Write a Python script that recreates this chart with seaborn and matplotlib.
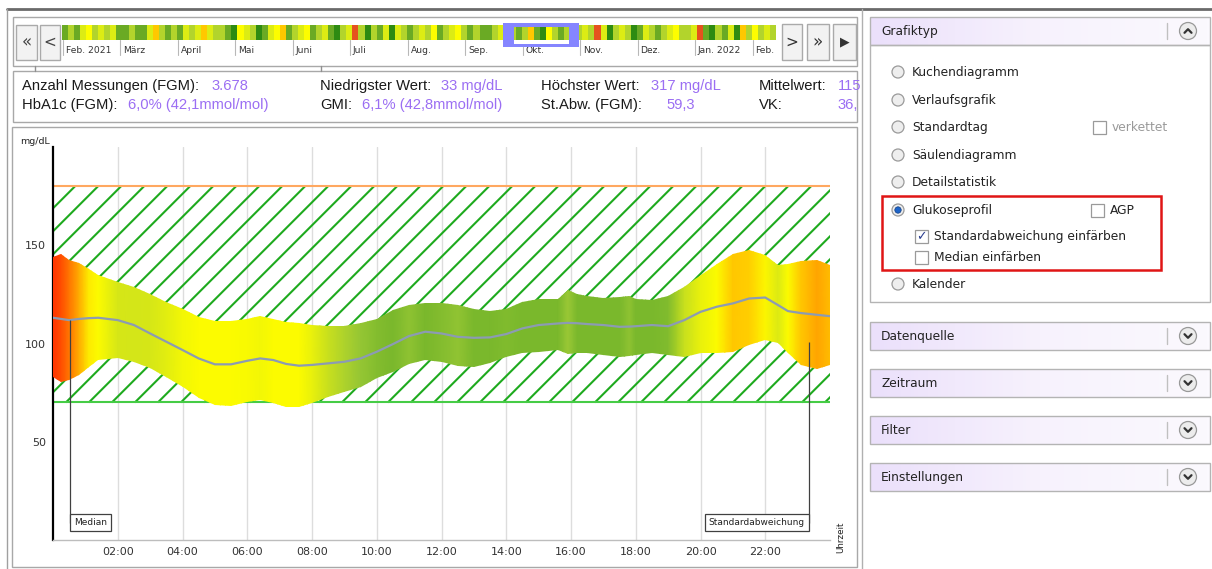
import numpy as np
import pandas as pd
import matplotlib
matplotlib.use("Agg")
import matplotlib.pyplot as plt
import seaborn as sns
from matplotlib.colors import LinearSegmentedColormap, ListedColormap
from matplotlib.collections import LineCollection
from matplotlib.patches import Rectangle, Circle

# ============================================
# Data
# ============================================

# glucose profile (mg/dL) over the standard day
hours = [0, 0.25, 0.5, 0.8, 1.1, 1.4, 2.0, 2.5, 3.0, 3.5, 4.0, 4.5, 5.0, 5.5,
         6.0, 6.4, 6.8, 7.2, 7.6, 8.0, 8.5, 9.0, 9.5, 10.0, 10.5, 11.0, 11.5,
         12.0, 12.5, 13.0, 13.5, 14.0, 14.5, 15.0, 15.6, 15.9, 16.2, 16.5,
         17.0, 17.5, 17.8, 18.0, 18.5, 19.0, 19.5, 20.0, 20.5, 21.0, 21.5,
         22.0, 22.4, 22.7, 23.1, 23.6, 24.0]
sd_upper = [144.0, 145.4, 142.3, 141.0, 138.1, 134.7, 131.4, 128.8, 125.4, 121.2,
            117.8, 113.6, 111.4, 111.6, 112.7, 113.9, 112.7, 111.0, 110.2, 109.4,
            108.8, 108.8, 110.2, 112.7, 117.0, 119.5, 120.7, 120.4, 119.5, 117.8,
            116.6, 117.8, 121.2, 122.4, 122.9, 127.1, 125.0, 124.1, 123.4, 123.7,
            124.1, 122.9, 122.0, 124.1, 128.8, 134.7, 140.7, 145.7, 147.8, 144.9,
            139.8, 140.3, 142.0, 142.7, 140.0]
median_line = [113.1, 112.5, 111.9, 112.5, 112.9, 113.1, 111.9, 109.4, 105.1, 100.9,
               96.7, 92.4, 89.4, 89.4, 91.2, 92.4, 91.6, 89.6, 88.7, 89.1,
               89.9, 90.7, 92.4, 95.8, 99.7, 103.8, 106.0, 105.1, 103.4, 102.9,
               103.1, 104.8, 107.7, 109.4, 110.2, 110.5, 110.3, 109.9, 109.4, 108.5,
               108.6, 108.8, 109.4, 108.8, 111.9, 116.1, 118.7, 120.4, 122.9, 123.4,
               119.5, 116.5, 115.5, 114.6, 113.9]
sd_lower = [83.1, 80.6, 81.4, 84.0, 88.2, 91.6, 92.4, 90.7, 87.4, 83.1,
            78.1, 72.1, 68.7, 68.2, 70.4, 71.0, 69.6, 67.9, 67.9, 69.6,
            73.0, 75.5, 78.1, 82.3, 85.7, 89.6, 91.6, 90.7, 88.5, 88.2,
            90.2, 93.3, 95.0, 95.8, 96.7, 94.5, 95.0, 95.0, 94.1, 93.3,
            93.6, 94.1, 95.0, 94.1, 92.9, 95.0, 95.3, 95.8, 99.2, 101.7,
            100.4, 95.0, 89.1, 86.9, 89.0]
# colour level of the SD band (0 = green ... 1 = red)
sd_colour_level = [1.0, 0.95, 0.88, 0.78, 0.56, 0.5, 0.37, 0.36, 0.37, 0.42,
                   0.47, 0.5, 0.5, 0.5, 0.49, 0.47, 0.5, 0.5, 0.5, 0.44,
                   0.3, 0.18, 0.08, 0.03, 0.0, 0.06, 0.0, 0.03, 0.07, 0.0,
                   0.0, 0.02, 0.0, 0.0, 0.0, 0.09, 0.0, 0.0, 0.0, 0.0,
                   0.06, 0.0, 0.0, 0.02, 0.3, 0.44, 0.5, 0.68, 0.66, 0.52,
                   0.4, 0.5, 0.68, 0.8, 0.72]
target_low, target_high = 70, 180
y_ticks = [50, 100, 150]
x_ticks = list(range(2, 24, 2))
x_tick_labels = [f"{h:02d}:00" for h in x_ticks]
median_pointer = (0.525, 112.0)
sd_pointer = (23.35, 101.0)

# timeline strip: one colour class per block
day_classes = ("GgGyYgygyGGgGGyogGgGygyoyggGDYygDGyYoGgyYGgyGDgyrgDgGyDygGgy"
               "gYGgyYgGgGGgyggGgoGDYgGgggygryDgygDGygGgyYggyrGDgGyDogYgyg")
class_colours = {"g": "#b2d42c", "G": "#6aaa24", "D": "#2e8b12", "y": "#dcec14",
                 "Y": "#fdfd00", "o": "#ffc800", "r": "#e5521e"}
months = ["Feb. 2021", "März", "April", "Mai", "Juni", "Juli", "Aug.", "Sep.",
          "Okt.", "Nov.", "Dez.", "Jan. 2022", "Feb."]

# statistics panel
stat_labels_1 = ["Anzahl Messungen (FGM):", "Niedrigster Wert:", "Höchster Wert:", "Mittelwert:"]
stat_values_1 = ["3.678", "33 mg/dL", "317 mg/dL", "115"]
stat_labels_2 = ["HbA1c (FGM):", "GMI:", "St.Abw. (FGM):", "VK:"]
stat_values_2 = ["6,0% (42,1mmol/mol)", "6,1% (42,8mmol/mol)", "59,3", "36,"]

# side panel
chart_types = ["Kuchendiagramm", "Verlaufsgrafik", "Standardtag", "Säulendiagramm",
               "Detailstatistik", "Glukoseprofil", "Kalender"]
selected_type = "Glukoseprofil"
collapsed_sections = ["Datenquelle", "Zeitraum", "Filter", "Einstellungen"]

df = pd.DataFrame({"hour": hours, "upper": sd_upper, "median": median_line,
                   "lower": sd_lower, "level": sd_colour_level})

# ============================================
# Figure setup
# ============================================
sns.set_theme(style="white")
plt.rcParams["font.family"] = ["DejaVu Sans"]

W, H = 1212, 569
fig = plt.figure(figsize=(W / 100, H / 100), dpi=100)
fig.patch.set_facecolor("white")

# full-figure pixel canvas for the surrounding UI
ui = fig.add_axes([0, 0, 1, 1], zorder=0)
ui.axis("off")

BORDER = "#a8a8a8"
STAT_FONT = ["Liberation Sans", "DejaVu Sans"]
PURPLE = "#9b6ef3"


def box(x, y, w, h, fc="none", ec=BORDER, lw=1.0, z=1):
    ui.add_patch(Rectangle((x, y), w, h, facecolor=fc, edgecolor=ec, lw=lw, zorder=z))


def chevron(xc, yc, up):
    d = -1 if up else 1
    ui.plot([xc - 3.5, xc, xc + 3.5], [yc - 1.8 * d, yc + 1.8 * d, yc - 1.8 * d],
            color="#333333", lw=1.6, solid_capstyle="round", zorder=5)


def section_header(y0, label, expanded):
    grad = np.linspace(0, 1, 100)[None, :]
    cm = LinearSegmentedColormap.from_list("hdr", ["#ebe0fb", "#f7f2fd", "#fbf9fe"])
    ui.imshow(grad, extent=(870, 1210, y0 + 28, y0), cmap=cm, aspect="auto", zorder=1)
    box(870, y0, 340, 28, ec="#b4b4b4", z=2)
    yc = y0 + 14
    ui.text(881, yc, label, va="center", ha="left", fontsize=8.8, color="#222222", zorder=3)
    ui.plot([1167, 1167], [yc - 8, yc + 8], color="#c0c0c0", lw=1, zorder=3)
    ui.add_patch(Circle((1188, yc), 8.5, facecolor="#ececec", edgecolor="#999999", lw=0.9, zorder=4))
    chevron(1188, yc, expanded)


def checkbox(x, y, label, checked=False, colour="#222222"):
    box(x, y - 6.5, 13, 13, fc="white", ec="#9a9a9a", lw=0.9, z=3)
    if checked:
        ui.text(x + 6.5, y + 0.5, "\u2713", ha="center", va="center", fontsize=9,
                color="#2a3d8f", zorder=4)
    ui.text(x + 19, y, label, va="center", ha="left", fontsize=8.8, color=colour, zorder=3)


# window frame
ui.plot([7, W], [9, 9], color="#6a6a6a", lw=2, zorder=3)
ui.plot([7, 7], [9, H], color="#a0a0a0", lw=1, zorder=3)
ui.plot([862, 862], [9, H], color="#b0b0b0", lw=1, zorder=3)

# ---- timeline navigator ----
box(13, 17, 844, 49)
for bx, bw, sym, fs in [(16, 21, "\u00ab", 12), (40, 20, "<", 11)]:
    box(bx, 25, bw, 35, fc="#f2f2f2", ec="#aaaaaa", z=2)
    ui.text(bx + bw / 2, 42, sym, ha="center", va="center", fontsize=fs, color="#444444", zorder=3)
for bx, bw, sym, fs in [(782, 20, ">", 11), (807, 22, "\u00bb", 12), (833, 23, "\u25b6", 9)]:
    box(bx, 24, bw, 36, fc="#f2f2f2", ec="#aaaaaa", z=2)
    ui.text(bx + bw / 2, 42, sym, ha="center", va="center", fontsize=fs, color="#333333", zorder=3)

keys = list(class_colours)
strip_cmap = ListedColormap([class_colours[k] for k in keys])
strip_idx = np.array([keys.index(c) for c in day_classes])[None, :]
strip_kw = dict(cmap=strip_cmap, vmin=-0.5, vmax=len(keys) - 0.5, aspect="auto",
                interpolation="nearest")
ui.imshow(strip_idx, extent=(62, 776, 40, 25), zorder=2, **strip_kw)

month_step = (776 - 62) / 12.42
for i, m in enumerate(months):
    mx = 63 + i * month_step
    ui.plot([mx, mx], [40, 55], color="#b8b8b8", lw=0.8, zorder=2)
    ui.text(mx + 2.5, 50, m, ha="left", va="center", fontsize=6.6, color="#333333", zorder=3)

# selected month window
box(503, 23, 76, 24, fc="#8585ff", ec="none", z=4)
box(514, 27, 55, 17, fc="white", ec="none", z=5)
inner = ui.imshow(strip_idx, extent=(62, 776, 40, 25), zorder=6, **strip_kw)
inner.set_clip_path(Rectangle((514, 27), 55, 13, transform=ui.transData))

# ---- statistics panel ----
box(13, 71, 844, 51)
for cx in (35, 321):
    ui.plot([cx, cx], [66, 71], color="#909090", lw=1, zorder=2)
label_x = [22, 320, 541, 759]
value_x_1 = [211, 441, 651, 838]
value_x_2 = [128, 362, 666, 838]
for lab, val, lx, vx in zip(stat_labels_1, stat_values_1, label_x, value_x_1):
    ui.text(lx, 86, lab, va="center", fontsize=10.6, family=STAT_FONT, color="#1a1a1a")
    ui.text(vx, 86, val, va="center", fontsize=10.6, family=STAT_FONT, color=PURPLE)
for lab, val, lx, vx in zip(stat_labels_2, stat_values_2, label_x, value_x_2):
    ui.text(lx, 105, lab, va="center", fontsize=10.6, family=STAT_FONT, color="#1a1a1a")
    ui.text(vx, 105, val, va="center", fontsize=10.6, family=STAT_FONT, color=PURPLE)

# ---- chart panel ----
box(12, 127, 845, 440)
ui.text(20, 141, "mg/dL", ha="left", va="center", fontsize=6.8, color="#222222")
ui.text(841, 537, "Uhrzeit", ha="center", va="center", rotation=90, fontsize=6.3, color="#222222")

# ---- side panel ----
section_header(17, "Grafiktyp", True)
box(870, 45, 340, 257, fc="white", ec="#b4b4b4", z=1)
type_y = [72, 100, 127, 155, 182, 210, 284]
for name, ty in zip(chart_types, type_y):
    ui.add_patch(Circle((898, ty), 6, facecolor="#eeeeee", edgecolor="#9a9a9a", lw=0.9, zorder=3))
    if name == selected_type:
        ui.add_patch(Circle((898, ty), 3.2, facecolor="#1e64c8", edgecolor="#103c80", lw=0.5, zorder=4))
    ui.text(912, ty, name, va="center", ha="left", fontsize=8.8, color="#222222", zorder=3)
checkbox(1093, 127, "verkettet", colour="#9a9a9a")
checkbox(1091, 210, "AGP")
checkbox(915, 236, "Standardabweichung einfärben", checked=True)
checkbox(915, 257, "Median einfärben")
box(882, 196, 279, 74, ec="#e01515", lw=1.8, z=5)

for label, sy in zip(collapsed_sections, [322, 369, 416, 463]):
    section_header(sy, label, False)

ui.set_xlim(0, W)
ui.set_ylim(H, 0)

# ============================================
# Glucose profile chart
# ============================================
ax = fig.add_axes([53 / W, (H - 540) / H, 777 / W, 393 / H], zorder=2)
ax.set_facecolor("white")

# target range hatch (45 degree lines, ~23 px apart)
px_per_h = 777 / 24
px_per_mg = 393 / 200
rise = (target_high - target_low) * px_per_mg / px_per_h   # hours needed to climb the band
step = 23 / px_per_h
tops = 0.68 + step * np.arange(0, 45)
segs = [[(t - rise, target_low), (t, target_high)] for t in tops]
hatch = LineCollection(segs, colors="#1eaa1e", linewidths=1.5, zorder=1)
hatch.set_clip_path(Rectangle((0, target_low), 24, target_high - target_low, transform=ax.transData))
ax.add_collection(hatch)
ax.axhline(target_high, color="#ffa860", lw=1.5, zorder=2)
ax.axhline(target_low, color="#46cc46", lw=1.5, zorder=2)

# SD band coloured by level
sd_cmap = LinearSegmentedColormap.from_list(
    "sd", [(0.0, "#7ab82c"), (0.1, "#9dca36"), (0.3, "#c8e01e"), (0.4, "#dcea14"),
           (0.5, "#fcfc00"), (0.68, "#ffc800"), (0.8, "#ffa500"), (1.0, "#ff3300")])
band = ax.fill_between(df["hour"], df["lower"], df["upper"], facecolor="none",
                       edgecolor="none", zorder=3)
gx, gy = np.meshgrid(df["hour"].to_numpy(), [0, 200])
gc = np.vstack([df["level"].to_numpy(), df["level"].to_numpy()])
mesh = ax.pcolormesh(gx, gy, gc, shading="gouraud", cmap=sd_cmap, vmin=0, vmax=1, zorder=3)
mesh.set_clip_path(band.get_paths()[0], transform=ax.transData)

sns.lineplot(data=df, x="hour", y="median", ax=ax, color="#8c9bb3", lw=1.6, zorder=4)

# callouts: vertical leader from the curve down to the label box edge
pad_h = 4 / px_per_h
box_y = 8.7
callout_kw = dict(va="center", fontsize=6.5, color="#222222", zorder=6,
                  bbox=dict(boxstyle="square,pad=0.45", fc="white", ec="#404040", lw=0.9))
ax.vlines(median_pointer[0], box_y, median_pointer[1], color="#404040", lw=0.9, zorder=5)
ax.text(median_pointer[0] + pad_h, box_y, "Median", ha="left", **callout_kw)
ax.vlines(sd_pointer[0], box_y, sd_pointer[1], color="#404040", lw=0.9, zorder=5)
ax.text(sd_pointer[0] - pad_h, box_y, "Standardabweichung", ha="right", **callout_kw)

ax.set_xlim(0, 24)
ax.set_ylim(0, 200)
ax.set_xticks(x_ticks, x_tick_labels)
ax.set_yticks(y_ticks)
ax.set_xlabel("")
ax.set_ylabel("")
ax.grid(axis="x", color="#dddddd", lw=1)
ax.grid(axis="y", visible=False)
ax.set_axisbelow(True)
for side in ("top", "right"):
    ax.spines[side].set_visible(False)
ax.spines["left"].set_color("black")
ax.spines["left"].set_linewidth(1.6)
ax.spines["bottom"].set_color("#bdbdbd")
ax.spines["bottom"].set_linewidth(1)
ax.tick_params(axis="x", length=0, pad=5, labelsize=8, labelcolor="#333333")
ax.tick_params(axis="y", direction="in", length=3, color="#aaaaaa", pad=5,
               labelsize=8, labelcolor="#333333")

fig.savefig("out.png", dpi=100)
